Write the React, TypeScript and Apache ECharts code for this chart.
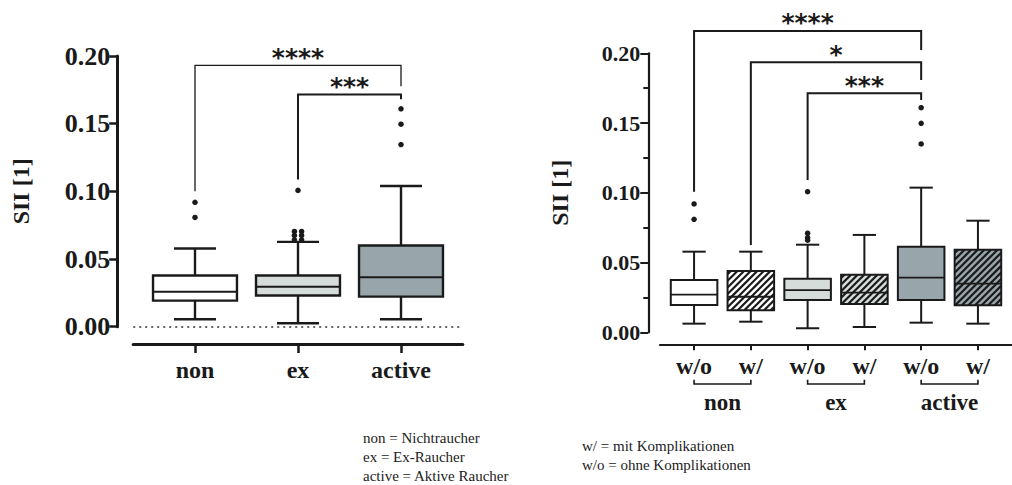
import React, { useEffect, useRef } from "react";
import * as echarts from "echarts";

// ---------- Left chart data ----------
const leftCategories = ["non", "ex", "active"];
const leftMin = [0.0055, 0.0025, 0.0055];
const leftQ1 = [0.0193, 0.023, 0.0222];
const leftMedian = [0.0259, 0.0296, 0.0366];
const leftQ3 = [0.0378, 0.0378, 0.06];
const leftMax = [0.0578, 0.0627, 0.104];
const leftOutliers = [
  [0.0919, 0.0807],
  [0.1007, 0.0704, 0.0704, 0.0674, 0.0674, 0.0642, 0.0642],
  [0.161, 0.1496, 0.1346],
];
const leftBracketFrom = [0, 1];
const leftBracketTo = [2, 2];
const leftBracketLevel = [0.193, 0.1716];
const leftBracketLeftEnd = [0.1, 0.1087];
const leftBracketRightEnd = [0.1776, 0.168];
const leftBracketLabels = ["****", "***"];

// ---------- Right chart data ----------
const rightCategories = ["w/o", "w/", "w/o", "w/", "w/o", "w/"];
const rightGroups = ["non", "ex", "active"];
const rightGroupStart = [0, 2, 4];
const rightGroupEnd = [1, 3, 5];
const rightMin = [0.0062, 0.0076, 0.0029, 0.0038, 0.0069, 0.0062];
const rightQ1 = [0.0196, 0.0158, 0.0232, 0.0203, 0.0232, 0.0194];
const rightMedian = [0.027, 0.0255, 0.0303, 0.0284, 0.0392, 0.0349];
const rightQ3 = [0.0375, 0.044, 0.0384, 0.0413, 0.0614, 0.0592];
const rightMax = [0.0578, 0.0578, 0.0628, 0.0698, 0.1037, 0.08];
const rightOutliers = [[0.092, 0.081], [], [0.1008, 0.071, 0.0678, 0.066], [], [0.161, 0.1498, 0.135], []];
const rightBracketFrom = [0, 1, 2];
const rightBracketTo = [4, 4, 4];
const rightBracketLevel = [0.216, 0.1935, 0.1713];
const rightBracketLeftEnd = [0.1008, 0.0626, 0.1092];
const rightBracketRightEnd = [0.2024, 0.1809, 0.1665];
const rightBracketLabels = ["****", "*", "***"];

const yTicks = [0, 0.05, 0.1, 0.15, 0.2];

// ---------- Styles ----------
const INK = "#1a1a1a";
const leftFills = ["#ffffff", "#d6dcda", "#98a6ab"];
const rightFills = ["#ffffff", "#ffffff", "#d6dcda", "#d6dcda", "#98a6ab", "#98a6ab"];
const rightHatched = [false, true, false, true, false, true];
const SERIF = "Liberation Serif";

function boxData(mins: number[], q1: number[], med: number[], q3: number[], max: number[]) {
  return mins.map((m, i) => [i, m, q1[i], med[i], q3[i], max[i]]);
}

function outlierData(groups: number[][]) {
  const out: any[] = [];
  groups.forEach((vals, i) => {
    const seen: Record<string, number> = {};
    vals.forEach((v) => {
      const key = String(v);
      const dup = vals.filter((w) => w === v).length > 1;
      const n = seen[key] || 0;
      seen[key] = n + 1;
      out.push({ value: [i, v], symbolOffset: dup ? [n === 0 ? -3.6 : 3.6, 0] : [0, 0] });
    });
  });
  return out;
}

function makeBoxRender(fills: string[], hatched: boolean[], frac: number, lw: number, medLw: number) {
  return (params: any, api: any) => {
    const i = params.dataIndex;
    const x = api.value(0);
    const vals = [1, 2, 3, 4, 5].map((d) => api.value(d));
    const unit = api.size([1, 0])[0];
    const bw = unit * frac;
    const cx = api.coord([x, 0])[0];
    const [yMin, yQ1, yMed, yQ3, yMax] = vals.map((v) => api.coord([x, v])[1]);
    const x0 = cx - bw / 2;
    const x1 = cx + bw / 2;
    const cap = bw / 4;
    const children: any[] = [];
    const ls = { stroke: INK, lineWidth: lw };
    children.push({ type: "line", shape: { x1: cx, y1: yQ1, x2: cx, y2: yMin }, style: ls });
    children.push({ type: "line", shape: { x1: cx, y1: yQ3, x2: cx, y2: yMax }, style: ls });
    children.push({ type: "line", shape: { x1: cx - cap, y1: yMin, x2: cx + cap, y2: yMin }, style: ls });
    children.push({ type: "line", shape: { x1: cx - cap, y1: yMax, x2: cx + cap, y2: yMax }, style: ls });
    children.push({
      type: "rect",
      shape: { x: x0, y: yQ3, width: bw, height: yQ1 - yQ3 },
      style: { fill: fills[i], stroke: "none" },
    });
    if (hatched[i]) {
      const step = 6.6;
      const top = yQ3;
      const bot = yQ1;
      for (let k = x0 + top + step / 2; k < x1 + bot; k += step) {
        const xa = Math.max(x0, k - bot);
        const xb = Math.min(x1, k - top);
        if (xb <= xa) continue;
        children.push({
          type: "line",
          shape: { x1: xa, y1: k - xa, x2: xb, y2: k - xb },
          style: { stroke: INK, lineWidth: 2.2 },
        });
      }
    }
    children.push({
      type: "rect",
      shape: { x: x0, y: yQ3, width: bw, height: yQ1 - yQ3 },
      style: { fill: "none", stroke: INK, lineWidth: lw },
    });
    children.push({ type: "line", shape: { x1: x0, y1: yMed, x2: x1, y2: yMed }, style: { stroke: INK, lineWidth: medLw } });
    return { type: "group", children };
  };
}

function makeBracketRender(labels: string[], widths: number[]) {
  return (params: any, api: any) => {
    const i = params.dataIndex;
    const from = api.value(0);
    const to = api.value(1);
    const level = api.value(2);
    const p1 = api.coord([from, api.value(3)]);
    const p2 = api.coord([from, level]);
    const p3 = api.coord([to, level]);
    const p4 = api.coord([to, api.value(4)]);
    return {
      type: "group",
      children: [
        {
          type: "polyline",
          shape: { points: [p1, p2, p3, p4] },
          style: { stroke: INK, lineWidth: widths[i], fill: "none" },
        },
        {
          type: "text",
          x: (p2[0] + p3[0]) / 2,
          y: p2[1] - 8,
          style: {
            text: labels[i],
            fontSize: 25,
            fontWeight: "bold",
            fontFamily: "DejaVu Sans",
            fill: INK,
            align: "center",
            verticalAlign: "middle",
          },
        },
      ],
    };
  };
}

function bracketData(from: number[], to: number[], level: number[], le: number[], re: number[]) {
  return from.map((f, i) => [f, to[i], level[i], le[i], re[i]]);
}

const groupRender = (params: any, api: any) => {
  const i = params.dataIndex;
  const a = api.coord([api.value(0), 0]);
  const b = api.coord([api.value(1), 0]);
  const base = a[1];
  return {
    type: "group",
    children: [
      {
        type: "polyline",
        shape: {
          points: [
            [a[0], base + 47.5],
            [a[0], base + 51.7],
            [b[0], base + 51.7],
            [b[0], base + 47.5],
          ],
        },
        style: { stroke: INK, lineWidth: 1.6, fill: "none" },
      },
      {
        type: "text",
        x: (a[0] + b[0]) / 2,
        y: base + 70,
        style: {
          text: rightGroups[i],
          fontSize: 23,
          fontWeight: "bold",
          fontFamily: SERIF,
          fill: INK,
          align: "center",
          verticalAlign: "middle",
        },
      },
    ],
  };
};

export default function App() {
  const ref = useRef<HTMLDivElement>(null);
  useEffect(() => {
    if (!ref.current) return;
    const chart = echarts.init(ref.current, undefined, { renderer: "svg" });
    const yLabelFmt = (v: number) => v.toFixed(2);
    const option: any = {
      animation: false,
      backgroundColor: "#ffffff",
      grid: [
        { left: 133.2, top: 56, right: 1012 - 462.8, bottom: 485 - 326.7 },
        { left: 660, top: 53.3, right: -10.6, bottom: 485 - 332.3 },
      ],
      xAxis: [
        {
          type: "value",
          gridIndex: 0,
          min: -0.6,
          max: 2.6,
          offset: 17.3,
          splitLine: { show: false },
          axisLine: { show: true, onZero: false, lineStyle: { color: INK, width: 3 } },
          axisTick: { show: true, customValues: [0, 1, 2], length: 9, lineStyle: { color: INK, width: 2.5 } },
          axisLabel: {
            customValues: [0, 1, 2],
            formatter: (v: number) => leftCategories[Math.round(v)] ?? "",
            fontSize: 24,
            fontWeight: "bold",
            fontFamily: SERIF,
            color: INK,
            margin: 14,
          },
        },
        {
          type: "value",
          gridIndex: 1,
          min: -0.6,
          max: 5.6,
          offset: 12,
          splitLine: { show: false },
          axisLine: { show: true, onZero: false, lineStyle: { color: INK, width: 2.2 } },
          axisTick: { show: true, customValues: [0, 1, 2, 3, 4, 5], length: 6, lineStyle: { color: INK, width: 2 } },
          axisLabel: {
            customValues: [0, 1, 2, 3, 4, 5],
            formatter: (v: number) => rightCategories[Math.round(v)] ?? "",
            fontSize: 24,
            fontWeight: "bold",
            fontFamily: SERIF,
            color: INK,
            margin: 10,
          },
        },
      ],
      yAxis: [
        {
          type: "value",
          gridIndex: 0,
          min: yTicks[0],
          max: yTicks[yTicks.length - 1],
          interval: 0.05,
          offset: 16,
          splitLine: { show: false },
          axisLine: { show: true, onZero: false, lineStyle: { color: INK, width: 3 } },
          axisTick: { show: true, length: 8, lineStyle: { color: INK, width: 2.5 } },
          axisLabel: { formatter: yLabelFmt, fontSize: 26, fontWeight: "bold", fontFamily: SERIF, color: INK, margin: 7 },
          name: "SII [1]",
          nameLocation: "middle",
          nameGap: 84,
          nameTextStyle: { fontSize: 24, fontWeight: "bold", fontFamily: SERIF, color: INK },
        },
        {
          type: "value",
          gridIndex: 1,
          min: yTicks[0],
          max: yTicks[yTicks.length - 1],
          interval: 0.05,
          offset: 11.7,
          splitLine: { show: false },
          axisLine: { show: true, onZero: false, lineStyle: { color: INK, width: 2.2 } },
          axisTick: { show: true, length: 8, lineStyle: { color: INK, width: 2 } },
          minorTick: { show: true, splitNumber: 2, length: 5, lineStyle: { color: INK, width: 2 } },
          axisLabel: { formatter: yLabelFmt, fontSize: 22, fontWeight: "bold", fontFamily: SERIF, color: INK, margin: 8 },
          name: "SII [1]",
          nameLocation: "middle",
          nameGap: 76,
          nameTextStyle: { fontSize: 24, fontWeight: "bold", fontFamily: SERIF, color: INK },
        },
      ],
      series: [
        {
          type: "custom",
          xAxisIndex: 0,
          yAxisIndex: 0,
          clip: false,
          renderItem: makeBoxRender(leftFills, [false, false, false], 0.815, 2.4, 2),
          encode: { x: 0, y: [1, 2, 3, 4, 5] },
          data: boxData(leftMin, leftQ1, leftMedian, leftQ3, leftMax),
          z: 3,
        },
        {
          type: "scatter",
          xAxisIndex: 0,
          yAxisIndex: 0,
          symbol: "circle",
          symbolSize: 5.5,
          itemStyle: { color: INK, opacity: 1 },
          data: outlierData(leftOutliers),
          z: 4,
          markLine: {
            silent: true,
            symbol: "none",
            label: { show: false },
            lineStyle: { type: [2, 4], color: "#333", width: 1.5 },
            data: [{ yAxis: 0 }],
          },
        },
        {
          type: "custom",
          xAxisIndex: 0,
          yAxisIndex: 0,
          clip: false,
          renderItem: makeBracketRender(leftBracketLabels, [1.3, 2]),
          encode: { x: [0, 1], y: [2, 3, 4] },
          data: bracketData(leftBracketFrom, leftBracketTo, leftBracketLevel, leftBracketLeftEnd, leftBracketRightEnd),
          z: 5,
        },
        {
          type: "custom",
          xAxisIndex: 1,
          yAxisIndex: 1,
          clip: false,
          renderItem: makeBoxRender(rightFills, rightHatched, 0.82, 2, 1.8),
          encode: { x: 0, y: [1, 2, 3, 4, 5] },
          data: boxData(rightMin, rightQ1, rightMedian, rightQ3, rightMax),
          z: 3,
        },
        {
          type: "scatter",
          xAxisIndex: 1,
          yAxisIndex: 1,
          symbol: "circle",
          symbolSize: 5.5,
          itemStyle: { color: INK, opacity: 1 },
          data: outlierData(rightOutliers),
          z: 4,
        },
        {
          type: "custom",
          xAxisIndex: 1,
          yAxisIndex: 1,
          clip: false,
          renderItem: makeBracketRender(rightBracketLabels, [2, 2, 2]),
          encode: { x: [0, 1], y: [2, 3, 4] },
          data: bracketData(rightBracketFrom, rightBracketTo, rightBracketLevel, rightBracketLeftEnd, rightBracketRightEnd),
          z: 5,
        },
        {
          type: "custom",
          xAxisIndex: 1,
          yAxisIndex: 1,
          clip: false,
          renderItem: groupRender,
          encode: { x: [0, 1] },
          data: rightGroupStart.map((s, i) => [s, rightGroupEnd[i]]),
          z: 5,
        },
      ],
      graphic: [
        {
          type: "group",
          left: 363,
          top: 430,
          children: [
            { type: "text", x: 0, y: 0, style: { text: "non = Nichtraucher", fontSize: 15, fontFamily: SERIF, fill: "#222" } },
            { type: "text", x: 0, y: 19, style: { text: "ex = Ex-Raucher", fontSize: 15, fontFamily: SERIF, fill: "#222" } },
            { type: "text", x: 0, y: 38, style: { text: "active = Aktive Raucher", fontSize: 15, fontFamily: SERIF, fill: "#222" } },
          ],
        },
        {
          type: "group",
          left: 582,
          top: 438,
          children: [
            { type: "text", x: 0, y: 0, style: { text: "w/ = mit Komplikationen", fontSize: 15, fontFamily: SERIF, fill: "#222" } },
            { type: "text", x: 0, y: 19, style: { text: "w/o = ohne Komplikationen", fontSize: 15, fontFamily: SERIF, fill: "#222" } },
          ],
        },
      ],
    };
    chart.setOption(option);
    return () => chart.dispose();
  }, []);
  return <div ref={ref} style={{ position: "absolute", left: 0, top: 0, width: 1012, height: 485 }} />;
}
